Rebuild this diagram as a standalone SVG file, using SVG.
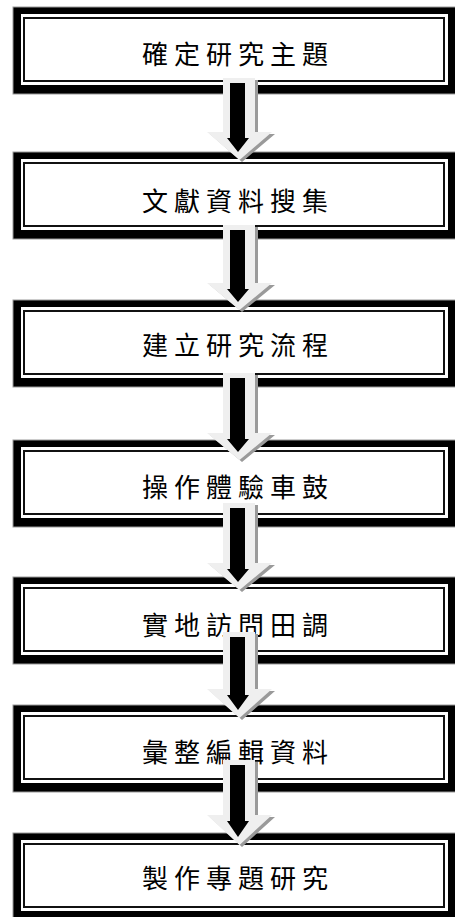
<svg xmlns="http://www.w3.org/2000/svg" width="455" height="917" viewBox="0 0 455 917">
<style>
.outer{fill:#000;stroke:#999;stroke-width:1}
.inner{fill:#fff}
.line{fill:#fff;stroke:#111;stroke-width:2}
.lbl{font-family:"Noto Sans CJK TC","Noto Sans CJK SC",sans-serif;font-size:26px;letter-spacing:6px;fill:#000;text-anchor:middle;dominant-baseline:central}
.ashadow{fill:#9a9a9a}
.alight{fill:#efefef}
.ablack{fill:#000}
</style>
<rect width="455" height="917" fill="#fff"/>
<g id="n1"><rect class="outer" x="13" y="7" width="445" height="87"/><rect class="inner" x="21" y="14" width="427" height="71"/><rect class="line" x="24" y="18" width="420" height="63"/><text class="lbl" x="238" y="52.5">確定研究主題</text></g>
<g id="n2"><rect class="outer" x="13" y="152" width="445" height="87"/><rect class="inner" x="21" y="159" width="427" height="71"/><rect class="line" x="24" y="163" width="420" height="63"/><text class="lbl" x="238" y="199">文獻資料搜集</text></g>
<g id="n3"><rect class="outer" x="13" y="300" width="445" height="87"/><rect class="inner" x="21" y="307" width="427" height="71"/><rect class="line" x="24" y="311" width="420" height="63"/><text class="lbl" x="238" y="343">建立研究流程</text></g>
<g id="n4"><rect class="outer" x="13" y="440" width="445" height="87"/><rect class="inner" x="21" y="447" width="427" height="71"/><rect class="line" x="24" y="451" width="420" height="63"/><text class="lbl" x="238" y="485">操作體驗車鼓</text></g>
<g id="n5"><rect class="outer" x="13" y="577" width="445" height="87"/><rect class="inner" x="21" y="584" width="427" height="71"/><rect class="line" x="24" y="588" width="420" height="63"/><text class="lbl" x="238" y="623">實地訪問田調</text></g>
<g id="n6"><rect class="outer" x="13" y="705" width="445" height="87"/><rect class="inner" x="21" y="712" width="427" height="71"/><rect class="line" x="24" y="716" width="420" height="63"/><text class="lbl" x="238" y="750">彙整編輯資料</text></g>
<g id="n7"><rect class="outer" x="13" y="833" width="445" height="87"/><rect class="inner" x="21" y="840" width="427" height="71"/><rect class="line" x="24" y="844" width="420" height="63"/><text class="lbl" x="238" y="876">製作專題研究</text></g>
<g id="connectors">
<g><polygon class="ashadow" points="226,80 258,80 258,134 275,134 242,162 210,134 226,134"/><polygon class="alight" points="223,78 255,78 255,132 272,132 239.5,160 207,132 223,132"/><polygon class="ablack" points="230,83 245,83 245,138 249,138 238,152 227,138 230,138"/></g>
<g><polygon class="ashadow" points="226,227 258,227 258,285 275,285 242,312 210,285 226,285"/><polygon class="alight" points="223,225 255,225 255,283 272,283 239.5,310 207,283 223,283"/><polygon class="ablack" points="230,230 245,230 245,289 249,289 238,302 227,289 230,289"/></g>
<g><polygon class="ashadow" points="226,375 258,375 258,435 275,435 242,462 210,435 226,435"/><polygon class="alight" points="223,373 255,373 255,433 272,433 239.5,460 207,433 223,433"/><polygon class="ablack" points="230,378 245,378 245,439 249,439 238,452 227,439 230,439"/></g>
<g><polygon class="ashadow" points="226,505 258,505 258,565 275,565 242,592 210,565 226,565"/><polygon class="alight" points="223,503 255,503 255,563 272,563 239.5,590 207,563 223,563"/><polygon class="ablack" points="230,508 245,508 245,569 249,569 238,582 227,569 230,569"/></g>
<g><polygon class="ashadow" points="226,634 258,634 258,691 275,691 242,720 210,691 226,691"/><polygon class="alight" points="223,632 255,632 255,689 272,689 239.5,718 207,689 223,689"/><polygon class="ablack" points="230,637 245,637 245,695 249,695 238,710 227,695 230,695"/></g>
<g><polygon class="ashadow" points="226,762 258,762 258,817 275,817 242,847 210,817 226,817"/><polygon class="alight" points="223,760 255,760 255,815 272,815 239.5,845 207,815 223,815"/><polygon class="ablack" points="230,765 245,765 245,821 249,821 238,837 227,821 230,821"/></g>
</g>
</svg>
